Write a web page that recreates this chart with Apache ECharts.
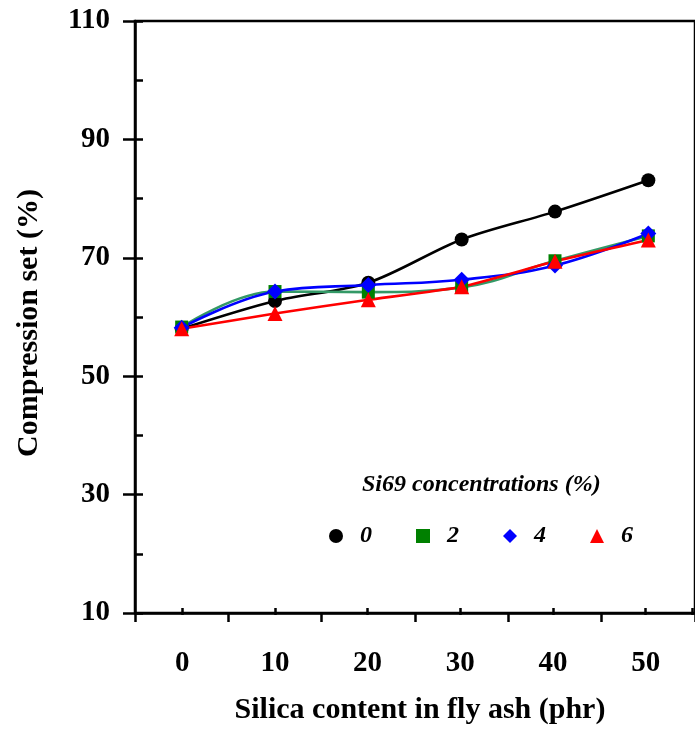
<!DOCTYPE html>
<html>
<head>
<meta charset="utf-8">
<script src="https://cdn.jsdelivr.net/npm/echarts@6/dist/echarts.min.js"></script>
<style>
  html, body { margin: 0; padding: 0; background: #fff; }
  #chart { width: 695px; height: 730px; }
</style>
</head>
<body>
<div id="chart"></div>
<script>
const silica = [0, 10, 20, 30, 40, 50]
const si0 = [58.0, 62.7, 65.8, 73.1, 77.8, 83.1]
const si2 = [58.3, 64.3, 64.2, 65.0, 69.5, 73.7]
const si4 = [58.2, 64.3, 65.4, 66.3, 68.7, 74.1]
const si6 = [58.0, 60.6, 62.9, 65.1, 69.4, 73.0]
const legendNames = ['0', '2', '4', '6']
const legendIcons = ['circle', 'rect', 'diamond', 'triangle']

const font = '"Liberation Serif", "Times New Roman", serif'
const chart = echarts.init(document.getElementById('chart'))

const pairs = ys => silica.map((x, i) => [x, ys[i]])
const mk = (name, ys, symbol, markColor, lineColor, smooth, size) => ({
  name, type: 'line', data: pairs(ys), xAxisIndex: 0, yAxisIndex: 0,
  symbol, symbolSize: size, smooth,
  itemStyle: { color: markColor },
  lineStyle: { color: lineColor, width: 2.6 }
})

chart.setOption({
  animation: false,
  title: {
    text: 'Si69 concentrations (%)', left: 357, top: 468,
    textStyle: { fontFamily: font, fontSize: 24, fontWeight: 'bold', fontStyle: 'italic', color: '#000' }
  },
  legend: {
    data: legendNames.map((n, i) => ({ name: n, icon: legendIcons[i] })),
    left: 324, top: 519, itemWidth: 14, itemHeight: 14, itemGap: 44,
    textStyle: { fontFamily: font, fontSize: 24, fontWeight: 'bold', fontStyle: 'italic', color: '#000', padding: [0, 0, 0, 12] }
  },
  grid: [
    { left: 135, right: -7, top: 21, bottom: 115, show: true, borderColor: '#000', borderWidth: 2.5 },
    { left: 182.25, right: -7, top: 21, bottom: 115 }
  ],
  xAxis: [
    {
      gridIndex: 0, type: 'value', min: -5, max: 55, interval: 10,
      name: 'Silica content in fly ash (phr)', nameLocation: 'middle', nameGap: 82,
      nameTextStyle: { fontFamily: font, fontSize: 30, fontWeight: 'bold', color: '#000', padding: [0, 0, 0, 10] },
      axisLine: { onZero: false, lineStyle: { color: '#000', width: 2.5 } },
      axisTick: { inside: false, length: 9, lineStyle: { color: '#000', width: 2.5 } },
      axisLabel: { show: false }, splitLine: { show: false }
    },
    {
      gridIndex: 1, type: 'value', min: 0, max: 55, interval: 10,
      axisLine: { show: false, onZero: false },
      axisTick: { inside: true, length: 7, lineStyle: { color: '#000', width: 2.5 } },
      axisLabel: { margin: 34, fontFamily: font, fontSize: 29, fontWeight: 'bold', color: '#000',
        formatter: v => (v > 50 ? '' : v) },
      splitLine: { show: false }
    }
  ],
  yAxis: [
    {
      gridIndex: 0, type: 'value', min: 10, max: 110, interval: 10,
      axisLine: { show: true, onZero: false, lineStyle: { color: '#000', width: 2.5 } },
      axisTick: { show: true, inside: true, length: 8, lineStyle: { color: '#000', width: 2.5 } },
      axisLabel: { show: false }, splitLine: { show: false }
    },
    {
      gridIndex: 0, type: 'value', min: 10, max: 110, interval: 20, position: 'left',
      name: 'Compression set (%)', nameLocation: 'middle', nameGap: 91,
      nameTextStyle: { fontFamily: font, fontSize: 30, fontWeight: 'bold', color: '#000', padding: [0, 12, 0, 0] },
      axisLine: { show: false, onZero: false },
      axisTick: { show: true, inside: false, length: 12, lineStyle: { color: '#000', width: 2.5 } },
      axisLabel: { margin: 25, fontFamily: font, fontSize: 29, fontWeight: 'bold', color: '#000' },
      splitLine: { show: false }
    },
    { gridIndex: 1, type: 'value', min: 10, max: 110, show: false, axisLine: { onZero: false } }
  ],
  series: [
    mk('0', si0, 'circle', '#000', '#000', 0.3, 14),
    mk('2', si2, 'rect', '#008000', '#339966', 0.4, 13),
    mk('4', si4, 'diamond', '#0000ff', '#0000ff', 0.4, 16),
    mk('6', si6, 'triangle', '#ff0000', '#ff0000', 0.15, 15)
  ]
})
window.addEventListener('resize', () => chart.resize())
</script>
</body>
</html>
